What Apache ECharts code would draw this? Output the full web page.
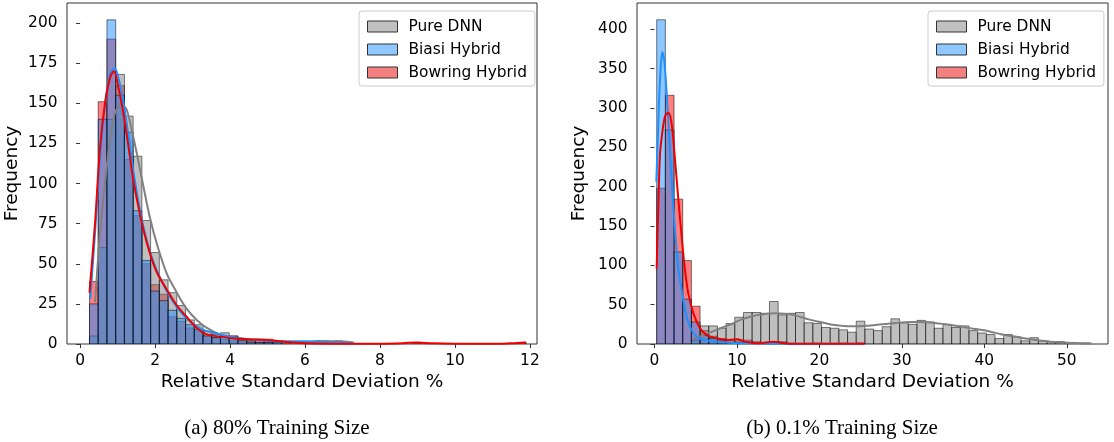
<!DOCTYPE html>
<html>
<head>
<meta charset="utf-8">
<script src="https://cdn.jsdelivr.net/npm/echarts@6/dist/echarts.min.js"></script>
<style>
  html, body { margin: 0; padding: 0; background: #fff; }
  #chart { width: 1114px; height: 442px; }
</style>
</head>
<body>
<div id="chart"></div>
<script>
// ---- (a) 80% training size: 50 shared bins ----
const binStartA = 0.25;
const binWidthA = 0.233;
const pureDnnA = [5,60,140,168,142,117,77,57,40,32,24,15,12,8,6,7,5,3,2,1,1,2,0,0,1,0,2,0,2,0,
                  0,0,0,0,0,0,0,0,0,0,0,0,0,0,0,0,0,0,0,0];
const biasiA   = [25,140,202,155,132,83,52,33,27,21,16,12,9,5,4,5,5,2,1,1,1,1,0,1,1,1,0,1,0,0,
                  0,0,0,0,0,0,0,0,0,0,0,0,0,0,0,0,0,0,0,0];
const bowringA = [39,151,190,161,115,80,50,37,31,17,14,10,8,6,4,3,2,3,2,3,3,1,1,0,0,0,0,0,0,0,
                  0,0,0,0,0,0,0,1,0,0,0,0,0,0,0,0,0,0,0,1];
const kdePureDnnA = [[0.4,26],[0.53,69],[0.67,102],[0.8,127],[0.93,144],[1.11,149],[1.24,146],[1.38,133],
  [1.51,119],[1.69,98],[1.87,78],[2.04,63],[2.31,44],[2.58,32],[2.84,22],[3.11,15],[3.38,10],[3.73,6],
  [4.09,4],[4.5,3],[5,2.5],[5.5,1.6],[6,1.5],[6.5,1.8],[7,1.5],[7.3,0.9]];
const kdeBiasiA = [[0.27,28],[0.4,70],[0.53,116],[0.67,150],[0.8,168],[0.92,172],[1.02,166],[1.16,150],
  [1.29,130],[1.42,108],[1.56,88],[1.69,73],[1.87,57],[2.04,46],[2.31,33],[2.58,23],[2.84,16],[3.11,11],
  [3.38,8],[3.73,6],[4.09,4],[4.44,3],[5,2],[5.5,1.5],[6,1.5],[6.5,1.2],[7,0.8],[7.3,0.5]];
const kdeBowringA = [[0.25,32],[0.4,76],[0.53,122],[0.67,151],[0.8,166],[0.9,170],[1.02,160],[1.16,143],
  [1.29,123],[1.42,102],[1.56,85],[1.69,71],[1.87,56],[2.04,45],[2.31,34],[2.58,24],[2.84,17],[3.11,10],
  [3.38,6],[3.73,4.6],[4.09,3.5],[4.44,3],[5,2.5],[5.5,1.2],[6,0.5],[7,0.2],[8,0.2],[8.6,0.5],[9,1],
  [9.4,0.4],[10,0.1],[11,0.1],[11.5,0.5],[11.9,1]];

// ---- (b) 0.1% training size: 50 shared bins ----
const binStartB = 0.27;
const binWidthB = 1.052;
const pureDnnB = [0,0,0,0,5,23,23,20,26,34,40,40,39,54,37,39,40,27,26,21,20,18,15,29,19,17,22,32,27,25,
                  30,28,20,25,21,23,17,14,12,7,12,9,4,8,4,3,3,2,1,1];
const biasiB   = [412,272,117,57,28,11,7,4,2,2,1,1,0,0,0,0,0,0,0,0,0,0,0,1,0,0,0,0,0,0,
                  0,0,0,0,0,0,0,0,0,0,0,0,0,0,0,0,0,0,0,0];
const bowringB = [198,316,184,106,48,17,10,7,6,4,5,3,1,2,3,1,0,0,1,0,0,1,0,1,0,0,0,0,0,0,
                  0,0,0,0,0,0,0,0,0,0,0,0,0,0,0,0,0,0,0,0];
const kdePureDnnB = [[4.7,7],[5.5,9.5],[6.5,13.5],[7.5,18],[8.5,22],[9.5,26],[10.5,31],[11.6,34.7],
  [12.6,37],[13.6,38.5],[14.8,39],[15.8,38.5],[16.8,37],[17.8,34],[18.8,31],[19.8,28.5],[20.9,26],
  [21.9,24],[22.9,23],[23.9,22.5],[24.9,22.5],[26,23.3],[27,24.5],[28,25.5],[29,26.5],[30,27.3],
  [31,27.8],[32,28],[33,27.7],[34,26.8],[35,25.5],[36,24],[37,22.5],[38,20.5],[39,19],[40,17.5],
  [41,15],[42,12.5],[43,10.5],[44,9],[45,7],[46,5.5],[47,4],[48,3],[49,2.2],[50,1.6],[51,1.2],
  [52,0.9],[53,0.7]];
const kdeBiasiB = [[0.22,206],[0.46,278],[0.66,333],[0.95,371],[1.2,358],[1.48,318],[1.76,268],
  [2.08,208],[2.49,145],[2.9,95],[3.3,68],[3.7,44],[4.11,27],[4.72,14],[5.53,6.5],[6.75,4],[8,2.5],
  [9.2,1.7],[10.8,0.8],[13,0.5],[15,0.3],[18,0.2],[21,0.2],[25,0.2]];
const kdeBowringB = [[0.26,96],[0.46,173],[0.66,240],[0.87,262],[1.27,289],[1.68,294],[2.08,280],
  [2.49,234],[2.9,183],[3.3,136],[3.7,94],[4.11,64],[4.72,39],[5.53,20],[6.34,11.4],[7.56,7.2],
  [8.8,5],[10,5.9],[11,3],[12.5,0.8],[14.5,3],[15.7,1],[17,0.3],[20,0.3],[25.5,0.3]];

// ---- tick labels ----
const xTicksA = [0,2,4,6,8,10,12];
const yTicksA = [0,25,50,75,100,125,150,175,200];
const xTicksB = [0,10,20,30,40,50];
const yTicksB = [0,50,100,150,200,250,300,350,400];

const names = ['Pure DNN', 'Biasi Hybrid', 'Bowring Hybrid'];
const barColor = { 'Pure DNN': '#808080', 'Biasi Hybrid': '#1e90ff', 'Bowring Hybrid': '#ff0000' };
const lineColor = { 'Pure DNN': '#808080', 'Biasi Hybrid': '#1e90ff', 'Bowring Hybrid': '#ee0000' };
const swatch = { 'Pure DNN': '#c0c0c0', 'Biasi Hybrid': '#8ec8ff', 'Bowring Hybrid': '#f48080' };

const FONT = 'DejaVu Sans';
const TICK_SIZE = 15.4;
const LABEL_SIZE = 18.5;

function histSeries(name, counts, start, width, idx) {
  return {
    type: 'custom',
    name: name,
    xAxisIndex: idx,
    yAxisIndex: idx,
    clip: true,
    itemStyle: { color: barColor[name] },
    encode: { x: [0, 1], y: 2 },
    data: counts.map((c, i) => [start + i * width, start + (i + 1) * width, c]),
    renderItem: function (params, api) {
      const c = api.value(2);
      if (!c) return null;
      const p0 = api.coord([api.value(0), 0]);
      const p1 = api.coord([api.value(1), c]);
      return {
        type: 'rect',
        shape: { x: p0[0], y: p1[1], width: p1[0] - p0[0], height: p0[1] - p1[1] },
        style: { fill: barColor[name], stroke: '#000', lineWidth: 1, opacity: 0.5 }
      };
    }
  };
}

function kdeSeries(name, pts, idx) {
  return {
    type: 'line',
    name: name + ' KDE',
    xAxisIndex: idx,
    yAxisIndex: idx,
    data: pts,
    smooth: 0.35,
    showSymbol: false,
    silent: true,
    lineStyle: { color: lineColor[name], width: 2 },
    z: 3
  };
}

function xAxis(idx, min, max, ticks) {
  return {
    type: 'value', gridIndex: idx, min: min, max: max,
    name: 'Relative Standard Deviation %', nameLocation: 'middle', nameGap: 29,
    nameTextStyle: { fontFamily: FONT, fontSize: LABEL_SIZE, color: '#000' },
    axisLine: { show: false },
    axisTick: { show: true, customValues: ticks, length: 4, lineStyle: { color: '#333' } },
    axisLabel: { customValues: ticks, fontFamily: FONT, fontSize: TICK_SIZE, color: '#000', margin: 9 },
    splitLine: { show: false }
  };
}
function yAxis(idx, max, ticks, gap) {
  return {
    type: 'value', gridIndex: idx, min: 0, max: max,
    name: 'Frequency', nameLocation: 'middle', nameGap: gap, nameRotate: 90,
    nameTextStyle: { fontFamily: FONT, fontSize: LABEL_SIZE, color: '#000' },
    axisLine: { show: false },
    axisTick: { show: true, customValues: ticks, length: 4, lineStyle: { color: '#333' } },
    axisLabel: { customValues: ticks, fontFamily: FONT, fontSize: TICK_SIZE, color: '#000', margin: 9.5 },
    splitLine: { show: false }
  };
}
function legend(left) {
  return {
    left: left, top: 11, orient: 'vertical',
    itemWidth: 30, itemHeight: 11, itemGap: 8,
    padding: [8, 8, 6, 8],
    borderColor: '#cccccc', borderWidth: 1, borderRadius: 3,
    backgroundColor: 'rgba(255,255,255,0.8)',
    selectedMode: false,
    textStyle: { fontFamily: FONT, fontSize: TICK_SIZE, color: '#000', padding: [0, 0, 0, 6] },
    data: names.map(n => ({
      name: n, icon: 'rect',
      itemStyle: { color: swatch[n], borderColor: '#333', borderWidth: 1 }
    }))
  };
}

const gridBase = { top: 3, height: 341, show: true, borderColor: '#333', borderWidth: 1,
                   backgroundColor: 'transparent', containLabel: false, outerBoundsMode: 'none' };

const chart = echarts.init(document.getElementById('chart'), null, { renderer: 'canvas' });
chart.setOption({
  animation: false,
  backgroundColor: '#fff',
  grid: [
    Object.assign({ left: 67, width: 470 }, gridBase),
    Object.assign({ left: 637, width: 471 }, gridBase)
  ],
  xAxis: [ xAxis(0, -0.35, 12.19, xTicksA), xAxis(1, -2.12, 55.0, xTicksB) ],
  yAxis: [ yAxis(0, 212.5, yTicksA, 45), yAxis(1, 433.3, yTicksB, 48) ],
  legend: [ legend(359), legend(928) ],
  series: [
    histSeries('Bowring Hybrid', bowringA, binStartA, binWidthA, 0),
    histSeries('Pure DNN', pureDnnA, binStartA, binWidthA, 0),
    histSeries('Biasi Hybrid', biasiA, binStartA, binWidthA, 0),
    kdeSeries('Pure DNN', kdePureDnnA, 0),
    kdeSeries('Biasi Hybrid', kdeBiasiA, 0),
    kdeSeries('Bowring Hybrid', kdeBowringA, 0),
    histSeries('Bowring Hybrid', bowringB, binStartB, binWidthB, 1),
    histSeries('Pure DNN', pureDnnB, binStartB, binWidthB, 1),
    histSeries('Biasi Hybrid', biasiB, binStartB, binWidthB, 1),
    kdeSeries('Pure DNN', kdePureDnnB, 1),
    kdeSeries('Biasi Hybrid', kdeBiasiB, 1),
    kdeSeries('Bowring Hybrid', kdeBowringB, 1)
  ],
  graphic: [
    { type: 'text', x: 277, y: 428, style: { text: '(a) 80% Training Size', font: '21px "Liberation Serif", serif', fill: '#000', textAlign: 'center', textVerticalAlign: 'middle' } },
    { type: 'text', x: 842, y: 428, style: { text: '(b) 0.1% Training Size', font: '21px "Liberation Serif", serif', fill: '#000', textAlign: 'center', textVerticalAlign: 'middle' } }
  ]
});
</script>
</body>
</html>
